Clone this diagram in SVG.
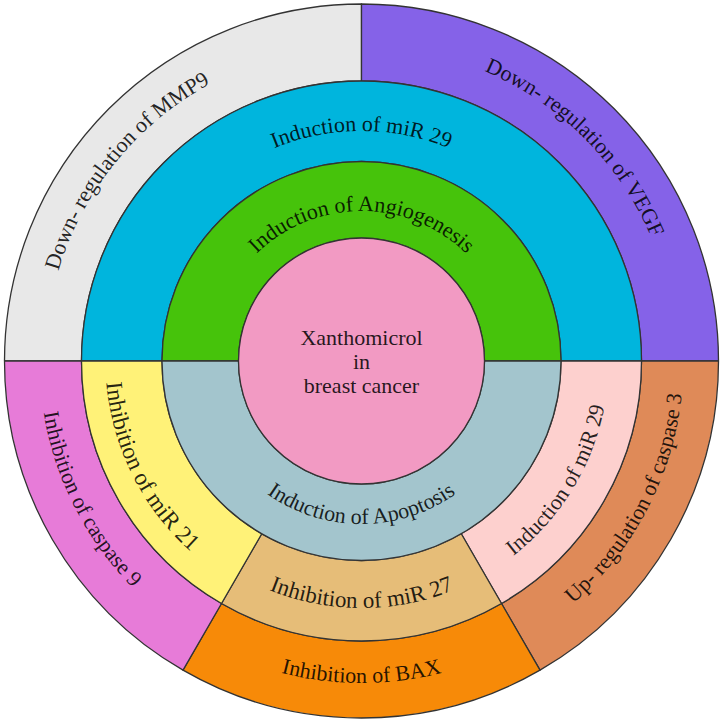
<svg xmlns="http://www.w3.org/2000/svg" xmlns:xlink="http://www.w3.org/1999/xlink" width="723" height="723" viewBox="0 0 723 723">
<style>
.seg{stroke:#333;stroke-width:1.3;stroke-linejoin:round}
.lbl{font-family:"Liberation Serif","Times New Roman",serif;font-size:22px;fill:#000;fill-opacity:0.86;text-anchor:middle}
</style>
<defs>
<path id="pAngio" d="M 231.6 286 A 150 150 0 0 1 491.4 286" fill="none"/>
<path id="pMir29top" d="M 162.31 246 A 230 230 0 0 1 560.69 246" fill="none"/>
<path id="pMMP9" d="M 66.49 474.24 A 315 315 0 0 1 410.93 49.89" fill="none"/>
<path id="pVEGF" d="M 279.71 56.77 A 315 315 0 0 1 665.73 442.53" fill="none"/>
<path id="pApop" d="M 220.34 442.5 A 163 163 0 0 0 502.66 442.5" fill="none"/>
<path id="pMir27" d="M 147.59 484.5 A 247 247 0 0 0 575.41 484.5" fill="none"/>
<path id="pBAX" d="M 82.64 522 A 322 322 0 0 0 640.36 522" fill="none"/>
<path id="pMir21" d="M 148.02 219.70 A 256 256 0 0 0 345.87 616.52" fill="none"/>
<path id="pCasp9" d="M 91.45 185.63 A 322 322 0 0 0 344.65 682.56" fill="none"/>
<path id="pMir29r" d="M 355.90 607.94 A 247 247 0 0 0 578.16 242.39" fill="none"/>
<path id="pCasp3" d="M 376.11 682.67 A 322 322 0 0 0 632.79 187.52" fill="none"/>
</defs>
<rect width="723" height="723" fill="#ffffff"/>

<g id="mmp9">
<path class="seg" fill="#E8E8E8" d="M 4.5 361 A 357 357 0 0 1 361.5 4 L 361.5 81 A 280 280 0 0 0 81.5 361 Z"/>
<text class="lbl"><textPath href="#pMMP9" xlink:href="#pMMP9" startOffset="50%">Down- regulation of MMP9</textPath></text>
</g>
<g id="vegf">
<path class="seg" fill="#8562E8" d="M 361.5 4 A 357 357 0 0 1 718.5 361 L 641.5 361 A 280 280 0 0 0 361.5 81 Z"/>
<text class="lbl"><textPath href="#pVEGF" xlink:href="#pVEGF" startOffset="50%">Down- regulation of VEGF</textPath></text>
</g>
<g id="caspase3">
<path class="seg" fill="#DF8A58" d="M 718.5 361 A 357 357 0 0 1 540 670.17 L 501.5 603.49 A 280 280 0 0 0 641.5 361 Z"/>
<text class="lbl"><textPath href="#pCasp3" xlink:href="#pCasp3" startOffset="50%">Up- regulation of caspase 3</textPath></text>
</g>
<g id="bax">
<path class="seg" fill="#F78A08" d="M 540 670.17 A 357 357 0 0 1 183 670.17 L 221.5 603.49 A 280 280 0 0 0 501.5 603.49 Z"/>
<text class="lbl"><textPath href="#pBAX" xlink:href="#pBAX" startOffset="50%">Inhibition of BAX</textPath></text>
</g>
<g id="caspase9">
<path class="seg" fill="#E77BD8" d="M 183 670.17 A 357 357 0 0 1 4.5 361 L 81.5 361 A 280 280 0 0 0 221.5 603.49 Z"/>
<text class="lbl"><textPath href="#pCasp9" xlink:href="#pCasp9" startOffset="50%">Inhibition of caspase 9</textPath></text>
</g>

<g id="mir29top">
<path class="seg" fill="#00B5DD" d="M 81.5 361 A 280 280 0 0 1 641.5 361 L 561 361 A 199.5 199.5 0 0 0 162 361 Z"/>
<text class="lbl"><textPath href="#pMir29top" xlink:href="#pMir29top" startOffset="50%">Induction of miR 29</textPath></text>
</g>
<g id="mir29right">
<path class="seg" fill="#FDD0CE" d="M 641.5 361 A 280 280 0 0 1 501.5 603.49 L 461.25 533.77 A 199.5 199.5 0 0 0 561 361 Z"/>
<text class="lbl"><textPath href="#pMir29r" xlink:href="#pMir29r" startOffset="50%">Induction of miR 29</textPath></text>
</g>
<g id="mir27">
<path class="seg" fill="#E6BD78" d="M 501.5 603.49 A 280 280 0 0 1 221.5 603.49 L 261.75 533.77 A 199.5 199.5 0 0 0 461.25 533.77 Z"/>
<text class="lbl" style="font-size:23px"><textPath href="#pMir27" xlink:href="#pMir27" startOffset="50%">Inhibition of miR 27</textPath></text>
</g>
<g id="mir21">
<path class="seg" fill="#FFF278" d="M 221.5 603.49 A 280 280 0 0 1 81.5 361 L 162 361 A 199.5 199.5 0 0 0 261.75 533.77 Z"/>
<text class="lbl" style="font-size:23.5px"><textPath href="#pMir21" xlink:href="#pMir21" startOffset="50%">Inhibition of miR 21</textPath></text>
</g>

<g id="angiogenesis">
<path class="seg" fill="#46C30B" d="M 162 361 A 199.5 199.5 0 0 1 561 361 L 484.5 361 A 123 123 0 0 0 238.5 361 Z"/>
<text class="lbl"><textPath href="#pAngio" xlink:href="#pAngio" startOffset="50%">Induction of Angiogenesis</textPath></text>
</g>
<g id="apoptosis">
<path class="seg" fill="#A3C5CD" d="M 561 361 A 199.5 199.5 0 0 1 162 361 L 238.5 361 A 123 123 0 0 0 484.5 361 Z"/>
<text class="lbl"><textPath href="#pApop" xlink:href="#pApop" startOffset="50%">Induction of Apoptosis</textPath></text>
</g>

<g id="center">
<circle class="seg" cx="361.5" cy="361" r="123" fill="#F29AC3"/>
<text class="lbl" x="361.5" y="344.5">Xanthomicrol</text>
<text class="lbl" x="361.5" y="369">in</text>
<text class="lbl" x="361.5" y="393">breast cancer</text>
</g>
<g id="connectors"></g>
</svg>
